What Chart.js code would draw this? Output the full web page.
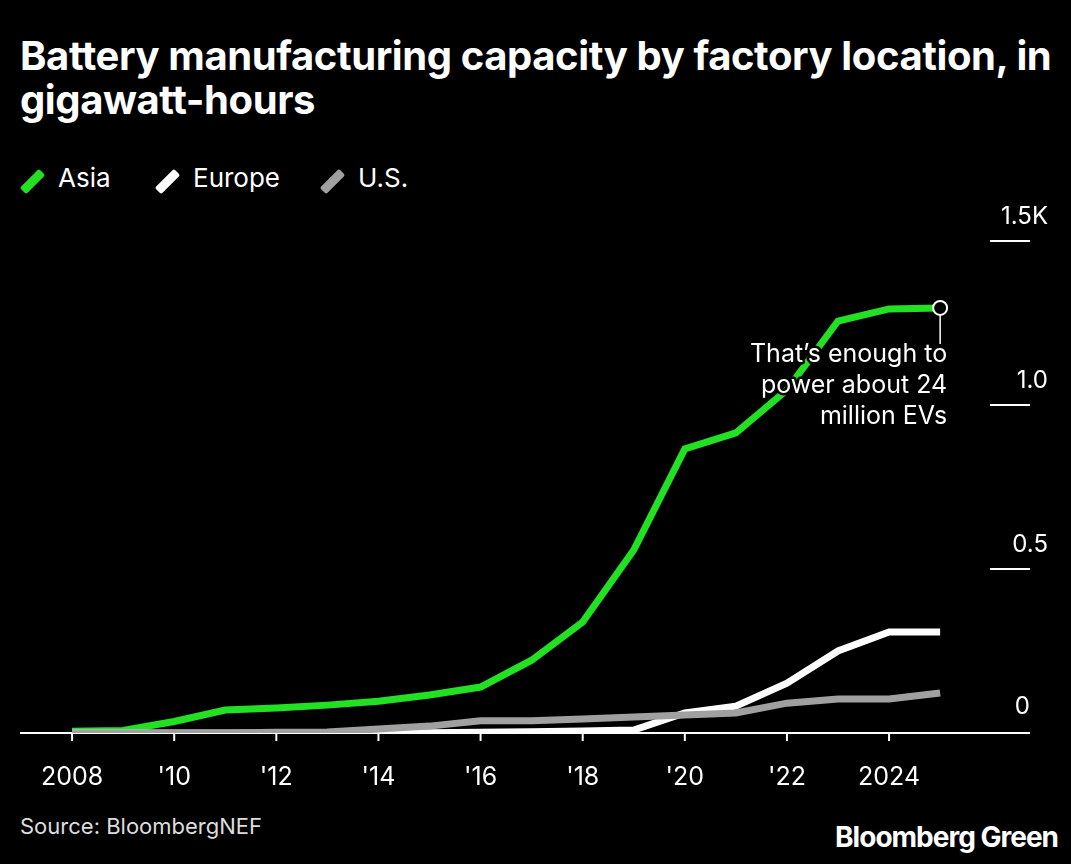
<!DOCTYPE html>
<html><head><meta charset="utf-8">
<script src="https://cdn.jsdelivr.net/npm/chart.js@4"></script>
<style>
html,body{margin:0;padding:0;background:#000;width:1071px;height:864px;overflow:hidden;font-family:Inter,"Liberation Sans",sans-serif;color:#fff}
#t{position:absolute;left:20px;top:34px;font-size:40px;font-weight:700;line-height:44px;letter-spacing:-0.4px;white-space:nowrap}
.lg{position:absolute;top:162px;font-size:26px;display:flex;align-items:center}
.lg i{position:absolute;left:-30px;top:6px;width:9px;height:27px;transform:rotate(45deg);border-radius:2px}
#src{position:absolute;left:20px;top:813px;font-size:22px;color:#ddd}
#br{position:absolute;right:13px;top:820px;font-size:28px;font-weight:700;letter-spacing:-1px}
#c{position:absolute;left:0;top:0}
</style></head><body>
<div id="t">Battery manufacturing capacity by factory location, in<br>gigawatt-hours</div>
<div class="lg" style="left:58px"><i style="background:#22e022"></i>Asia</div>
<div class="lg" style="left:193px"><i style="background:#fff"></i>Europe</div>
<div class="lg" style="left:358px"><i style="background:#a0a0a0"></i>U.S.</div>
<div id="src">Source: BloombergNEF</div>
<div id="br">Bloomberg Green</div>
<canvas id="c" width="1071" height="864"></canvas>
<script>
const years=[2008,2009,2010,2011,2012,2013,2014,2015,2016,2017,2018,2019,2020,2021,2022,2023,2024,2025];
const asia=[5,8,35,70,76,85,97,116,140,222,338,558,866,915,1046,1256,1293,1296];
const europe=[0,0,0,0,0,0,0,1,2,4,6,9,61,82,152,250,308,308];
const us=[0,0,0,0,2,3,12,21,37,37,43,49,55,61,91,104,104,122];
const yTicks=[0,500,1000,1500];
const yLabels=['0','0.5','1.0','1.5K'];
const xTicks=[2008,2010,2012,2014,2016,2018,2020,2022,2024];
const xLabels=['2008',"'10","'12","'14","'16","'18","'20","'22",'2024'];
const noteLines=["That\u2019s enough to","power about 24","million EVs"];
const F='Inter,"Liberation Sans",sans-serif';
const pts=a=>a.map((v,i)=>({x:years[i],y:v}));
const deco={id:'deco',
beforeDatasetsDraw(ch){const c=ch.ctx,x=ch.scales.x,y=ch.scales.y,a=ch.chartArea;c.save();
c.fillStyle='#fff';c.strokeStyle='#fff';c.lineWidth=2;c.font='24px '+F;c.textAlign='right';c.textBaseline='alphabetic';
yTicks.forEach((t,i)=>{const py=y.getPixelForValue(t);if(i>0){c.beginPath();c.moveTo(990,py);c.lineTo(a.right,py);c.stroke();}c.fillText(yLabels[i],i>0?1048:a.right,py-(i>0?17:19));});
c.beginPath();c.moveTo(a.left,y.getPixelForValue(0));c.lineTo(a.right,y.getPixelForValue(0));c.stroke();
c.textAlign='center';c.font='25px '+F;
xTicks.forEach((t,i)=>{const px=x.getPixelForValue(t),py=y.getPixelForValue(0);c.beginPath();c.moveTo(px,py);c.lineTo(px,py+8);c.stroke();c.fillText(xLabels[i],px,py+52);});
c.restore();},
afterDatasetsDraw(ch){const c=ch.ctx,x=ch.scales.x,y=ch.scales.y;c.save();
const px=x.getPixelForValue(years[17]),py=y.getPixelForValue(asia[17]);
c.strokeStyle='#fff';c.lineWidth=1.5;c.beginPath();c.moveTo(px,py);c.lineTo(px,py+36);c.stroke();
c.fillStyle='#000';c.lineWidth=2;c.beginPath();c.arc(px,py,7,0,7);c.fill();c.stroke();
c.font='25px '+F;c.textAlign='right';c.lineJoin='round';
noteLines.forEach((l,i)=>{const ty=py+54+i*31;c.strokeStyle='#000';c.lineWidth=5;c.strokeText(l,px+7,ty);c.fillStyle='#fff';c.fillText(l,px+7,ty);});
c.restore();}};
new Chart(document.getElementById('c'),{type:'line',
data:{datasets:[
{label:'U.S.',data:pts(us),borderColor:'#a0a0a0',borderWidth:7},
{label:'Europe',data:pts(europe),borderColor:'#ffffff',borderWidth:7},
{label:'Asia',data:pts(asia),borderColor:'#22e022',borderWidth:7}]},
options:{responsive:false,animation:false,devicePixelRatio:1,
layout:{padding:{left:20,right:41,top:241,bottom:131}},
elements:{point:{radius:0},line:{tension:0,borderJoinStyle:'miter',borderCapStyle:'butt'}},
plugins:{legend:{display:false},tooltip:{enabled:false}},
scales:{x:{type:'linear',min:2006.98,max:2026.76,display:false},y:{min:0,max:1500,display:false}}},
plugins:[deco]});
</script></body></html>
